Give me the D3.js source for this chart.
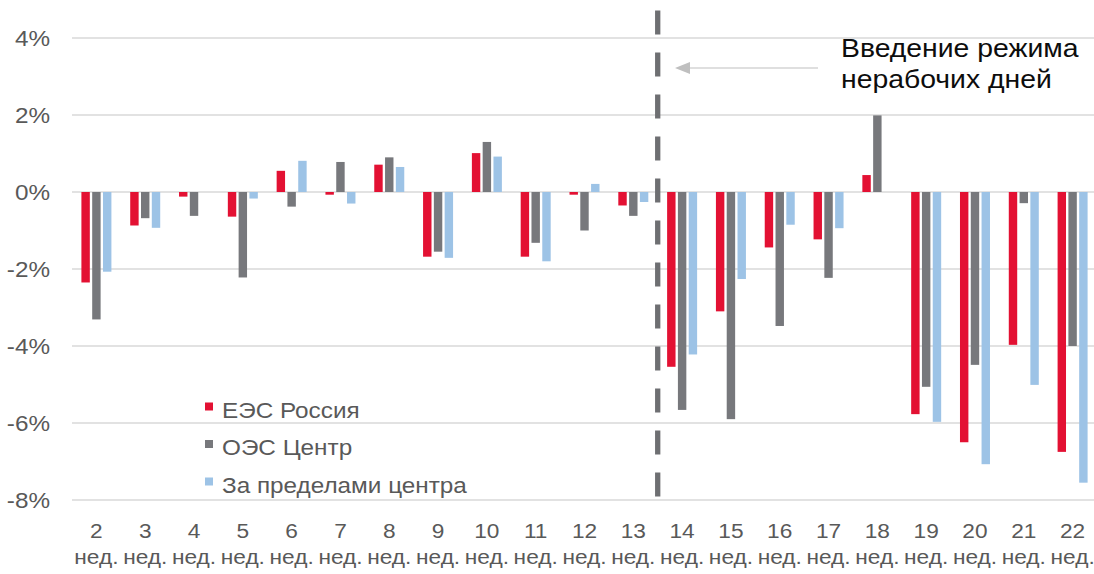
<!DOCTYPE html>
<html><head><meta charset="utf-8">
<script src="https://cdn.jsdelivr.net/npm/d3@7"></script>
<style>
html,body{margin:0;padding:0;background:#fff;}
svg{display:block;font-family:"Liberation Sans",Arial,sans-serif;}
</style></head>
<body><svg id="c" width="1094" height="574"></svg>
<script>
const weeks = ["2","3","4","5","6","7","8","9","10","11","12","13","14","15","16","17","18","19","20","21","22"];
const seriesNames = ["ЕЭС Россия","ОЭС Центр","За пределами центра"];
const ees = [-2.35,-0.87,-0.12,-0.64,0.55,-0.07,0.71,-1.68,1.01,-1.68,-0.07,-0.35,-4.54,-3.10,-1.44,-1.23,0.44,-5.77,-6.50,-3.97,-6.75];
const oesCenter = [-3.31,-0.68,-0.62,-2.22,-0.38,0.78,0.90,-1.55,1.30,-1.32,-1.00,-0.62,-5.66,-5.90,-3.48,-2.23,1.99,-5.06,-4.49,-0.29,-4.00];
const outside = [-2.07,-0.93,0,-0.17,0.81,-0.30,0.65,-1.71,0.92,-1.80,0.21,-0.26,-4.22,-2.26,-0.85,-0.94,0,-5.97,-7.07,-5.01,-7.55];
const yTicks = [4,2,0,-2,-4,-6,-8];
const weekSuffix = "нед.";
const colors = ["#E31133","#77787C","#9DC3E6"];
const annotation = ["Введение режима","нерабочих дней"];
const markerAfterWeek = "13";

const svg = d3.select("#c");
const x = d3.scaleBand().domain(weeks).range([72,1097]).padding(0);
const y = d3.scaleLinear().domain([-8,4]).range([500,38]);
const x1 = d3.scaleBand().domain(seriesNames).range([-15,15]).paddingInner(0.22);
const data = [ees, oesCenter, outside];
const sx = 1.08;

// gridlines
svg.append("g").selectAll("line").data(yTicks).join("line")
  .attr("x1",72).attr("x2",1094).attr("y1",d=>y(d)).attr("y2",d=>y(d))
  .attr("stroke","#D9D9D9").attr("stroke-width",1.6);

// y labels
svg.append("g").selectAll("text").data(yTicks).join("text")
  .attr("transform",d=>`translate(50,${y(d)+8}) scale(${sx},1)`).attr("text-anchor","end")
  .attr("font-size",22.5).attr("fill","#595959").text(d=>d+"%");

// bars
seriesNames.forEach((s,si)=>{
  svg.append("g").selectAll("rect").data(weeks.map((w,i)=>({w,v:data[si][i]}))).join("rect")
    .attr("x",d=>x(d.w)+x.bandwidth()/2+x1(s))
    .attr("width",x1.bandwidth())
    .attr("y",d=>y(Math.max(0,d.v)))
    .attr("height",d=>Math.abs(y(d.v)-y(0)))
    .attr("fill",colors[si]);
});

// x labels
const xl = svg.append("g").selectAll("g").data(weeks).join("g")
  .attr("transform",d=>`translate(${x(d)+x.bandwidth()/2},0)`);
xl.append("text").attr("transform",`translate(0,537.5) scale(1.08,1)`).attr("text-anchor","middle").attr("font-size",21).attr("fill","#595959").text(d=>d);
xl.append("text").attr("transform",`translate(0,564) scale(1.08,1)`).attr("text-anchor","middle").attr("font-size",21).attr("fill","#595959").text(weekSuffix);

// dashed marker
const mx = x(markerAfterWeek)+x.bandwidth();
svg.append("line").attr("x1",mx).attr("x2",mx).attr("y1",10.5).attr("y2",497.5)
  .attr("stroke","#6E6F72").attr("stroke-width",5.3).attr("stroke-dasharray","24 18");

// arrow
svg.append("line").attr("x1",818).attr("x2",688).attr("y1",68).attr("y2",68).attr("stroke","#BFBFBF").attr("stroke-width",1.2);
svg.append("path").attr("d","M675,68 L690,62 L690,74 Z").attr("fill","#BFBFBF");

// annotation text
svg.append("g").selectAll("text").data(annotation).join("text")
  .attr("transform",(d,i)=>`translate(841,${57+i*31}) scale(1.07,1)`).attr("font-size",26.5).attr("fill","#0D0D0D").text(d=>d);

// legend
const lg = svg.append("g").selectAll("g").data(seriesNames).join("g")
  .attr("transform",(d,i)=>`translate(205,${402.5+i*37.5})`);
lg.append("rect").attr("width",8).attr("height",8).attr("fill",(d,i)=>colors[i]);
lg.append("text").attr("transform",`translate(17,15) scale(${sx},1)`).attr("font-size",22.5).attr("fill","#595959").text(d=>d);
</script></body></html>
